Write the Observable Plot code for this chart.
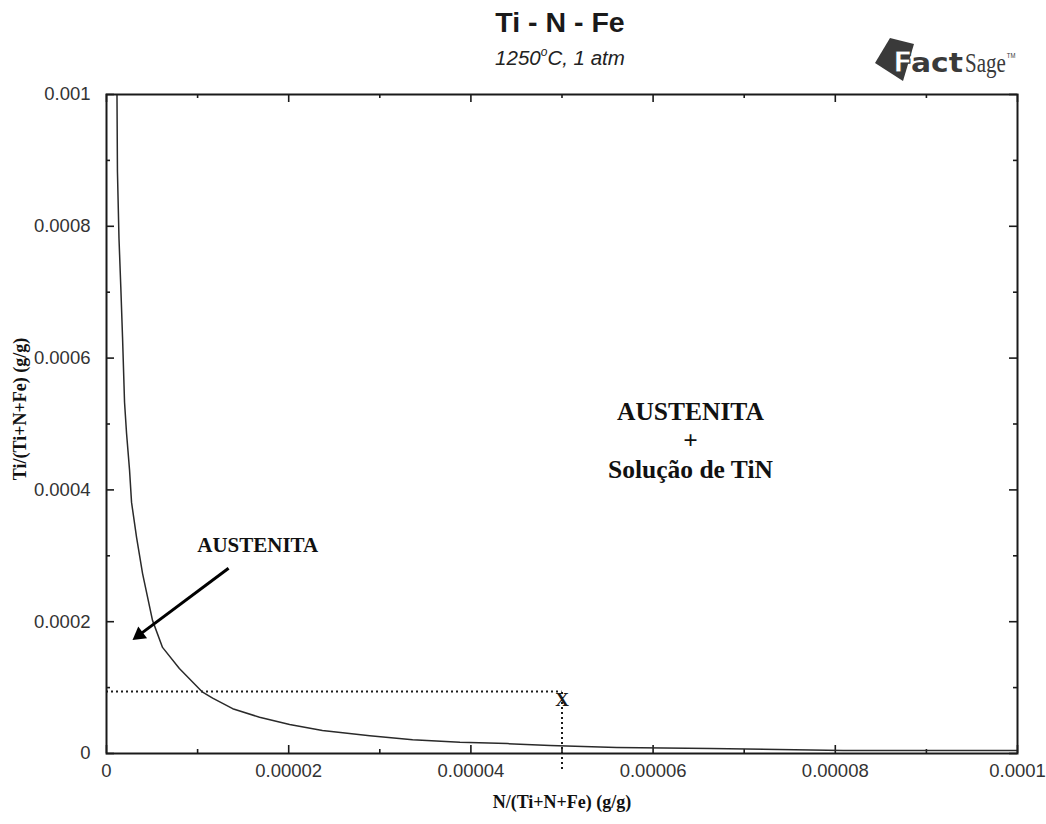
<!DOCTYPE html>
<html>
<head>
<meta charset="utf-8">
<script src="https://cdn.jsdelivr.net/npm/d3@7"></script>
<script src="https://cdn.jsdelivr.net/npm/@observablehq/plot@0.6"></script>
<style>
  html, body { margin: 0; padding: 0; background: #fff; }
  #wrap { position: relative; width: 1046px; height: 824px; overflow: hidden; }
  #title { position: absolute; left: 0; top: 6px; width: 1120px; text-align: center;
    font: bold 28.5px "Liberation Sans", Arial, sans-serif; color: #1a1a1a; white-space: nowrap; }
  #subtitle { position: absolute; left: 0; top: 45px; width: 1120px; text-align: center;
    font: italic 20.5px "Liberation Sans", Arial, sans-serif; color: #222; white-space: nowrap; }
  #subtitle sup { font-size: 12px; vertical-align: 9px; }
  #logo { position: absolute; left: 860px; top: 28px; }
  #chart { position: absolute; left: 0; top: 0; }
</style>
</head>
<body>
<div id="wrap">
  <div id="chart"></div>
  <div id="title">Ti - N - Fe</div>
  <div id="subtitle">1250<sup>o</sup>C, 1 atm</div>
  <svg id="logo" width="170" height="60" viewBox="860 28 170 60">
    <polygon points="875,63 890,38 914,44 903,81" fill="#3a3a3a"/>
    <text x="893" y="72" font-family="DejaVu Sans, sans-serif" font-weight="bold" font-size="29"
      fill="#fff" stroke="#3a3a3a" stroke-width="1.2">F</text>
    <text x="911" y="72" font-family="DejaVu Sans, sans-serif" font-weight="bold" font-size="26"
      fill="#3a3a3a" textLength="52" lengthAdjust="spacingAndGlyphs">act</text>
    <text transform="translate(965,72) scale(1,1.3)" font-family="Liberation Serif, serif" font-size="21"
      fill="#3a3a3a">Sage<tspan font-family="Liberation Sans, sans-serif" font-size="6" dx="1" dy="-11">TM</tspan></text>
  </svg>
</div>
<script>
// ---- data ----
const xMajor = [0, 0.00002, 0.00004, 0.00006, 0.00008, 0.0001];
const xMajorLabels = ["0", "0.00002", "0.00004", "0.00006", "0.00008", "0.0001"];
const xMinor = [0.00001, 0.00003, 0.00005, 0.00007, 0.00009];
const yMajor = [0, 0.0002, 0.0004, 0.0006, 0.0008, 0.001];
const yMajorLabels = ["0", "0.0002", "0.0004", "0.0006", "0.0008", "0.001"];
const yMinor = [0.0001, 0.0003, 0.0005, 0.0007, 0.0009];

// solubility curve: N mass fraction vs Ti mass fraction
const curveN  = [1.15e-6, 1.2e-6, 1.37e-6, 1.57e-6, 1.76e-6, 1.98e-6, 2.2e-6, 2.53e-6, 2.75e-6,
                 3.3e-6, 3.96e-6, 5.05e-6, 6.15e-6, 8.0e-6, 1.055e-5, 1.165e-5, 1.385e-5, 1.68e-5,
                 2.01e-5, 2.37e-5, 2.89e-5, 3.36e-5, 3.88e-5, 4.4e-5, 4.87e-5, 5.6e-5, 6.63e-5,
                 8.09e-5, 1.0e-4];
const curveTi = [1.0e-3, 8.84e-4, 7.82e-4, 7.08e-4, 6.32e-4, 5.33e-4, 4.86e-4, 4.30e-4, 3.81e-4,
                 3.28e-4, 2.73e-4, 2.02e-4, 1.61e-4, 1.29e-4, 9.3e-5, 8.4e-5, 6.8e-5, 5.5e-5,
                 4.4e-5, 3.5e-5, 2.7e-5, 2.1e-5, 1.7e-5, 1.5e-5, 1.2e-5, 9.0e-6, 7.6e-6,
                 4.6e-6, 4.6e-6];

// reference point "X"
const pointN = [0.00005];
const pointTi = [0.000094];
const pointLabel = ["X"];

// region labels
const regionLabels = ["AUSTENITA\n+\nSolução de TiN"];
const regionN = [0.0000641];
const regionTi = [0.000476];
const smallLabel = ["AUSTENITA"];
const smallN = [0.0000166];
const smallTi = [0.000316];

// arrow from small label towards region
const arrowFromN = [0.0000134];
const arrowFromTi = [0.000281];
const arrowToN = [0.0000036];
const arrowToTi = [0.000180];

const xTitle = ["N/(Ti+N+Fe) (g/g)"];
const yTitle = ["Ti/(Ti+N+Fe) (g/g)"];

// ---- build ----
const W = 1046, H = 824;
const mL = 106, mR = 29, mT = 94, mB = 71;
const pw = W - mL - mR, ph = H - mT - mB;
const curve = curveN.map((n, i) => ({n, ti: curveTi[i]}));
const arrowData = arrowFromN.map((n, i) => ({x1: n, y1: arrowFromTi[i], x2: arrowToN[i], y2: arrowToTi[i]}));
const ink = "#1a1a1a";
const serif = "'Liberation Serif', 'Times New Roman', serif";
const sans = "'Liberation Sans', Arial, sans-serif";

const chart = Plot.plot({
  width: W, height: H,
  marginLeft: mL, marginRight: mR, marginTop: mT, marginBottom: mB,
  style: {background: "transparent"},
  x: {domain: [0, 0.0001]},
  y: {domain: [0, 0.001]},
  marks: [
    Plot.axisX({ticks: xMajor, tickFormat: (d, i) => xMajorLabels[i], tickSize: 0, tickPadding: 10,
      fontSize: 18.5, fontFamily: sans, fill: "#333", label: null}),
    Plot.axisY({ticks: yMajor, tickFormat: (d, i) => yMajorLabels[i], tickSize: 0, tickPadding: 16,
      fontSize: 18.5, fontFamily: sans, fill: "#333", label: null}),
    // inward ticks
    Plot.tickX(xMajor, {x: d => d, insetTop: ph - 8, stroke: ink, strokeWidth: 1.6}),
    Plot.tickX(xMajor, {x: d => d, insetBottom: ph - 8, stroke: ink, strokeWidth: 1.6}),
    Plot.tickX(xMinor, {x: d => d, insetTop: ph - 4, stroke: ink, strokeWidth: 1.6}),
    Plot.tickX(xMinor, {x: d => d, insetBottom: ph - 4, stroke: ink, strokeWidth: 1.6}),
    Plot.tickY(yMajor, {y: d => d, insetRight: pw - 8, stroke: ink, strokeWidth: 1.6}),
    Plot.tickY(yMajor, {y: d => d, insetLeft: pw - 8, stroke: ink, strokeWidth: 1.6}),
    Plot.tickY(yMinor, {y: d => d, insetRight: pw - 4, stroke: ink, strokeWidth: 1.6}),
    Plot.tickY(yMinor, {y: d => d, insetLeft: pw - 4, stroke: ink, strokeWidth: 1.6}),
    // dotted reference lines
    Plot.ruleY(pointTi, {y: d => d, x1: 0, x2: pointN[0], stroke: ink, strokeWidth: 2, strokeDasharray: "2,3"}),
    Plot.ruleX(pointN, {x: d => d, y1: 0, y2: pointTi[0], insetTop: 16, stroke: ink, strokeWidth: 2, strokeDasharray: "2,3"}),
    Plot.text(pointLabel, {x: pointN, y: pointTi, text: d => d, dy: 8, fontFamily: serif, fontWeight: "bold", fontSize: 19, fill: ink}),
    // solubility curve
    Plot.line(curve, {x: "n", y: "ti", stroke: "#2a2a2a", strokeWidth: 1.5, clip: true}),
    // region labels
    Plot.text(regionLabels, {x: regionN, y: regionTi, text: d => d, lineHeight: 1.12, fontFamily: serif,
      fontWeight: "bold", fontSize: 25.5, fill: "#111"}),
    Plot.text(smallLabel, {x: smallN, y: smallTi, text: d => d, fontFamily: serif,
      fontWeight: "bold", fontSize: 21, fill: "#111"}),
    // arrow
    Plot.link(arrowData, {x1: "x1", y1: "y1", x2: "x2", y2: "y2", stroke: "#000", strokeWidth: 3}),
    Plot.dot(arrowData, {x: "x2", y: "y2", symbol: "triangle2", r: 7, fill: "#000", rotate: 233}),
    // frame
    Plot.frame({stroke: ink, strokeWidth: 2}),
    // axis titles
    Plot.text(xTitle, {frameAnchor: "bottom", dy: 54, text: d => d, fontFamily: serif, fontWeight: "bold", fontSize: 18, fill: "#111"}),
    Plot.text(yTitle, {frameAnchor: "left", textAnchor: "middle", dx: -86, dy: -15, rotate: -90, text: d => d, fontFamily: serif, fontWeight: "bold", fontSize: 18, fill: "#111"})
  ]
});
document.getElementById("chart").appendChild(chart);
</script>
</body>
</html>
